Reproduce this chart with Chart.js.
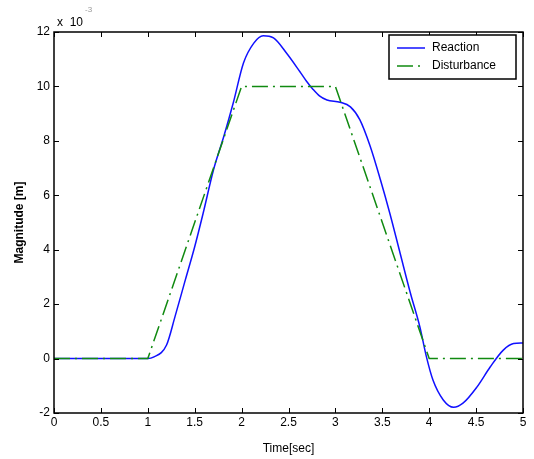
<!DOCTYPE html>
<html>
<head>
<meta charset="utf-8">
<script src="https://cdn.jsdelivr.net/npm/chart.js@4"></script>
<style>
  body { margin: 0; background: #fff; }
  canvas { display: block; }
</style>
</head>
<body>
<canvas id="chart" width="534" height="459"></canvas>
<script>
// reaction curve (values in units of 1e-3 m)
let reactionTime = [0, 1.0, 1.06, 1.2, 1.29, 1.4, 1.5, 1.59, 1.7, 1.81, 1.91, 2.02, 2.13, 2.23, 2.34, 2.48, 2.62, 2.69, 2.76, 2.83, 2.91, 3.05, 3.16, 3.26, 3.37, 3.48, 3.58, 3.69, 3.8, 3.9, 3.97, 4.04, 4.15, 4.26, 4.36, 4.51, 4.65, 4.79, 4.9, 5.0]
let reactionValue = [0, 0, 0.05, 0.5, 1.54, 2.89, 4.11, 5.34, 6.93, 8.16, 9.38, 10.86, 11.59, 11.86, 11.78, 11.22, 10.55, 10.2, 9.9, 9.65, 9.5, 9.42, 9.25, 8.78, 7.81, 6.57, 5.34, 3.87, 2.4, 1.17, 0.07, -0.79, -1.52, -1.79, -1.64, -1.04, -0.31, 0.31, 0.55, 0.57]

// disturbance (trapezoid)
let disturbanceTime = [0, 1.0, 2.0, 3.0, 4.0, 5.0]
let disturbanceValue = [0, 0, 10, 10, 0, 0]

let xTicks = [0, 0.5, 1, 1.5, 2, 2.5, 3, 3.5, 4, 4.5, 5]
let yTicks = [-2, 0, 2, 4, 6, 8, 10, 12]

let seriesNames = ['Reaction', 'Disturbance']
let seriesColors = ['#1010ff', '#108a10']

let fontFamily = '"Liberation Sans", Arial, sans-serif'

function toPoints(xs, ys) {
    let pts = []
    for (let i = 0; i < xs.length; i++) pts.push({x: xs[i], y: ys[i]})
    return pts
}

// box, inward ticks, exponent label and legend (matlab look)
let matlabFrame = {
    id: 'matlabFrame',
    afterDatasetsDraw(chart) {
        let ctx = chart.ctx
        let area = chart.chartArea
        let xs = chart.scales.x
        let ys = chart.scales.y
        ctx.save()
        ctx.strokeStyle = '#000'
        ctx.lineWidth = 1.5
        ctx.strokeRect(area.left, area.top, area.right - area.left, area.bottom - area.top)
        ctx.lineWidth = 1
        ctx.beginPath()
        xTicks.forEach(function (t) {
            let px = Math.round(xs.getPixelForValue(t)) + 0.5
            ctx.moveTo(px, area.bottom); ctx.lineTo(px, area.bottom - 5)
            ctx.moveTo(px, area.top); ctx.lineTo(px, area.top + 5)
        })
        yTicks.forEach(function (t) {
            let py = Math.round(ys.getPixelForValue(t)) + 0.5
            ctx.moveTo(area.left, py); ctx.lineTo(area.left + 5, py)
            ctx.moveTo(area.right, py); ctx.lineTo(area.right - 5, py)
        })
        ctx.stroke()

        // exponent
        ctx.fillStyle = '#000'
        ctx.font = '12px ' + fontFamily
        ctx.textBaseline = 'alphabetic'
        ctx.textAlign = 'left'
        ctx.fillText('x  10', area.left + 3, area.top - 6)
        ctx.font = '8px ' + fontFamily
        ctx.fillStyle = '#999'
        ctx.fillText('-3', area.left + 31, area.top - 20)

        // legend
        let lx = 389, ly = 35, lw = 127, lh = 44
        ctx.fillStyle = '#fff'
        ctx.fillRect(lx, ly, lw, lh)
        ctx.strokeStyle = '#000'
        ctx.lineWidth = 1.5
        ctx.strokeRect(lx, ly, lw, lh)
        ctx.font = '12px ' + fontFamily
        ctx.textBaseline = 'middle'
        chart.data.datasets.forEach(function (ds, i) {
            let y = ly + 13 + i * 18
            ctx.strokeStyle = ds.borderColor
            ctx.lineWidth = 1.5
            ctx.setLineDash(ds.borderDash || [])
            ctx.beginPath()
            ctx.moveTo(lx + 8, y)
            ctx.lineTo(lx + 36, y)
            ctx.stroke()
            ctx.setLineDash([])
            ctx.fillStyle = '#000'
            ctx.fillText(ds.label, lx + 43, y)
        })
        ctx.restore()
    }
}

let ctx = document.querySelector('#chart').getContext('2d')

let chart = new Chart(ctx, {
    type: 'line',
    data: {
        datasets: [
            {
                label: seriesNames[0],
                data: toPoints(reactionTime, reactionValue),
                borderColor: seriesColors[0],
                borderWidth: 1.5,
                pointRadius: 0,
                cubicInterpolationMode: 'monotone',
                fill: false,
                order: 1
            },
            {
                label: seriesNames[1],
                data: toPoints(disturbanceTime, disturbanceValue),
                borderColor: seriesColors[1],
                borderWidth: 1.5,
                borderDash: [16, 5, 2, 5],
                pointRadius: 0,
                tension: 0,
                fill: false,
                order: 0
            }
        ]
    },
    options: {
        responsive: false,
        animation: false,
        layout: { padding: { top: 32, right: 11, left: 0, bottom: 0 } },
        plugins: { legend: { display: false }, tooltip: { enabled: false } },
        scales: {
            x: {
                type: 'linear',
                min: 0,
                max: 5,
                afterBuildTicks: function (scale) { scale.ticks = xTicks.map(function (v) { return {value: v} }) },
                afterFit: function (scale) { scale.height = 46 },
                grid: { display: false, drawTicks: false },
                border: { display: false },
                ticks: {
                    color: '#000',
                    padding: 2,
                    maxRotation: 0,
                    font: { size: 12, family: fontFamily },
                    callback: function (v) { return String(v) }
                },
                title: {
                    display: true,
                    text: 'Time[sec]',
                    color: '#000',
                    font: { size: 12, family: fontFamily },
                    padding: { top: 0, bottom: 3 }
                }
            },
            y: {
                type: 'linear',
                min: -2,
                max: 12,
                afterBuildTicks: function (scale) { scale.ticks = yTicks.map(function (v) { return {value: v} }) },
                afterFit: function (scale) { scale.width = 54 },
                grid: { display: false, drawTicks: false },
                border: { display: false },
                ticks: {
                    color: '#000',
                    padding: 4,
                    font: { size: 12, family: fontFamily }
                },
                title: {
                    display: true,
                    text: 'Magnitude [m]',
                    color: '#000',
                    font: { size: 12, weight: 'bold', family: fontFamily },
                    padding: { top: 12, bottom: 0 }
                }
            }
        }
    },
    plugins: [matlabFrame]
})
</script>
</body>
</html>
